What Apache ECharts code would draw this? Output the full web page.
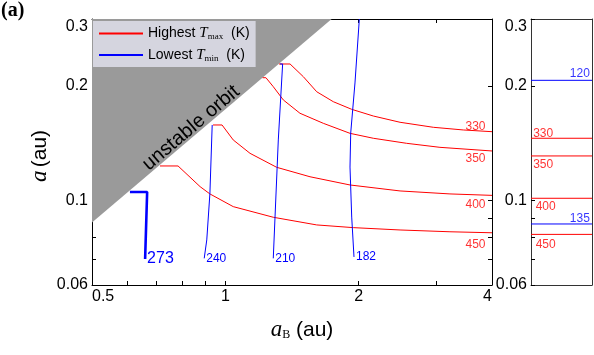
<!DOCTYPE html>
<html>
<head>
<meta charset="utf-8">
<script src="https://cdn.jsdelivr.net/npm/echarts@6/dist/echarts.min.js"></script>
<style>
html,body{margin:0;padding:0;background:#fff}
#chart{width:594px;height:355px}
</style>
</head>
<body>
<div id="chart"></div>
<script>
var chart = echarts.init(document.getElementById('chart'));

//刻度
var xTicks = [0.5, 0.6, 0.7, 0.8, 0.9, 1, 2, 3, 4];
var xTickLabels = [0.5, 1, 2, 4];
var yTicks = [0.06, 0.07, 0.08, 0.09, 0.1, 0.2, 0.3];
var yTickLabels = [0.06, 0.1, 0.2, 0.3];

//不稳定轨道边界 [aB, a]
var unstableEdge = [[0.5, 0.0876], [1.738, 0.3]];

//最高温 Tmax 等值线
var tmaxLevels = ['330', '350', '400', '450'];
var tmax330 = [[1.322, 0.2285], [1.400, 0.2285], [1.500, 0.2116], [1.608, 0.1932], [1.753, 0.1819], [1.929, 0.1737],
    [2.158, 0.1668], [2.480, 0.1606], [2.948, 0.1558], [3.445, 0.1533], [4, 0.1517]];
var tmax350 = [[1.214, 0.2103], [1.235, 0.2103], [1.283, 0.1992], [1.352, 0.1838], [1.474, 0.1696], [1.664, 0.1596],
    [1.912, 0.1502], [2.158, 0.1458], [2.567, 0.1414], [3.052, 0.1380], [4, 0.1350]];
var tmax400 = [[0.938, 0.1580], [0.983, 0.1580], [1.042, 0.1443], [1.137, 0.1331], [1.306, 0.1223], [1.553, 0.1155],
    [1.912, 0.1099], [2.480, 0.1060], [3.215, 0.1041], [4, 0.1032]];
var tmax450 = [[0.712, 0.1233], [0.782, 0.1233], [0.877, 0.1088], [0.923, 0.1041], [1.042, 0.0964], [1.283, 0.0904],
    [1.608, 0.0863], [1.945, 0.0849], [2.480, 0.0837], [3.215, 0.0828], [4, 0.0823]];

//最低温 Tmin 等值线
var tminLevels = ['273', '240', '210', '182'];
var tmin273 = [[0.609, 0.1053], [0.666, 0.1053], [0.659, 0.0702]];
var tmin240 = [[0.934, 0.1580], [0.923, 0.1045], [0.908, 0.0788], [0.896, 0.0705]];
var tmin210 = [[1.329, 0.2285], [1.347, 0.2285], [1.317, 0.1443], [1.283, 0.0705]];
var tmin182 = [[2.007, 0.3], [1.962, 0.2037], [1.919, 0.1505], [1.912, 0.1225], [1.929, 0.0905], [1.952, 0.0711]];

//右侧小图
var panelTmaxLevels = ['330', '350', '400', '450'];
var panelTmaxA = [0.1458, 0.1310, 0.1014, 0.0815];
var panelTminLevels = ['120', '135'];
var panelTminA = [0.2070, 0.0868];

var FONT = 'Liberation Sans, Arial, sans-serif';
var SERIF = 'Liberation Serif, Times New Roman, serif';
var RED = '#ff0000', BLUE = '#0000ff';
var lg = Math.log10;

function fmt(v) { return String(Math.round(v * 100) / 100); }

//坐标轴：type 'log' 用来画线和标签，'value'(对数空间) 只画刻度
function frame(gridIndex, pos, type, min, max, opt) {
    opt = opt || {};
    return {
        gridIndex: gridIndex, type: type, position: pos, min: min, max: max,
        axisLine: { show: opt.line !== false, onZero: false, lineStyle: { color: opt.color || '#000', width: 1 } },
        axisTick: opt.ticks ? { show: true, inside: true, length: 4, customValues: opt.ticks, lineStyle: { color: '#000' } } : { show: false },
        axisLabel: opt.labels ? {
            show: true, customValues: opt.labels, formatter: fmt, color: '#000', fontSize: 16, fontFamily: FONT, margin: 4,
            alignMinLabel: opt.alignEnds ? 'left' : undefined, alignMaxLabel: opt.alignEnds ? 'right' : undefined,
            verticalAlignMaxLabel: opt.alignEnds ? undefined : 'top'
        } : { show: false },
        splitLine: { show: false }
    };
}

var xLogTicks = xTicks.map(lg);
var yLogTicks = yTicks.map(lg);

var series = [];
series.push({
    type: 'line', name: 'unstable', data: unstableEdge, symbol: 'none', silent: true, z: 1,
    lineStyle: { width: 0 }, areaStyle: { color: '#9a9a9a', opacity: 1, origin: 'end' }
});
[tmax330, tmax350, tmax400, tmax450].forEach(function (d) {
    series.push({ type: 'line', name: 'Highest', data: d, symbol: 'none', z: 3,
        lineStyle: { color: RED, width: 1 }, itemStyle: { color: RED } });
});
[tmin273, tmin240, tmin210, tmin182].forEach(function (d, i) {
    series.push({ type: 'line', name: 'Lowest', data: d, symbol: 'none', z: 4,
        lineStyle: { color: BLUE, width: i === 0 ? 2.6 : 1 }, itemStyle: { color: BLUE },
        endLabel: { show: true, formatter: tminLevels[i], color: BLUE, fontFamily: FONT, fontSize: i === 0 ? 16 : 12, distance: 2 } });
});

//等值线标注位置
var mainLabelSpots = [[3.671, 0.1567], [3.671, 0.1292], [3.671, 0.0974], [3.671, 0.0768]];
series.push({
    type: 'scatter', name: 'lab', symbolSize: 1, itemStyle: { color: 'rgba(0,0,0,0)' }, silent: true, z: 5,
    data: mainLabelSpots.map(function (p, i) { return [p[0], p[1], tmaxLevels[i]]; }),
    label: { show: true, position: 'inside', formatter: function (p) { return p.value[2]; }, color: RED, fontSize: 12, fontFamily: FONT }
});

panelTmaxA.forEach(function (a) {
    series.push({ type: 'line', name: 'Highest', xAxisIndex: 3, yAxisIndex: 3, data: [[0, a], [1, a]], symbol: 'none',
        lineStyle: { color: RED, width: 1 }, itemStyle: { color: RED } });
});
panelTminA.forEach(function (a) {
    series.push({ type: 'line', name: 'Lowest', xAxisIndex: 3, yAxisIndex: 3, data: [[0, a], [1, a]], symbol: 'none',
        lineStyle: { color: BLUE, width: 1 }, itemStyle: { color: BLUE } });
});
var panelRedSpots = [[0.20, 0.1502], [0.20, 0.1240], [0.24, 0.0964], [0.24, 0.0764]];
var panelBlueSpots = [[0.80, 0.2160], [0.80, 0.0894]];
series.push({
    type: 'scatter', name: 'lab', xAxisIndex: 3, yAxisIndex: 3, symbolSize: 1, itemStyle: { color: 'rgba(0,0,0,0)' }, silent: true,
    data: panelRedSpots.map(function (p, i) { return [p[0], p[1], panelTmaxLevels[i]]; }),
    label: { show: true, position: 'inside', formatter: function (p) { return p.value[2]; }, color: RED, fontSize: 12, fontFamily: FONT }
});
series.push({
    type: 'scatter', name: 'lab', xAxisIndex: 3, yAxisIndex: 3, symbolSize: 1, itemStyle: { color: 'rgba(0,0,0,0)' }, silent: true,
    data: panelBlueSpots.map(function (p, i) { return [p[0], p[1], panelTminLevels[i]]; }),
    label: { show: true, position: 'inside', formatter: function (p) { return p.value[2]; }, color: BLUE, fontSize: 12, fontFamily: FONT }
});

option = {
    animation: false,
    textStyle: { fontFamily: FONT },
    grid: [
        { left: 92, top: 19, width: 400, height: 266 },
        { left: 531, top: 19, width: 61, height: 266 }
    ],
    xAxis: [
        frame(0, 'bottom', 'log', 0.5, 4, { labels: xTickLabels, alignEnds: true }),
        frame(0, 'top', 'value', lg(0.5), lg(4), { ticks: xLogTicks }),
        frame(0, 'bottom', 'value', lg(0.5), lg(4), { ticks: xLogTicks, line: false }),
        frame(1, 'bottom', 'value', 0, 1, { color: '#333' }),
        frame(1, 'top', 'value', 0, 1, { color: '#333' })
    ],
    yAxis: [
        frame(0, 'left', 'log', 0.06, 0.3, { labels: yTickLabels }),
        frame(0, 'right', 'value', lg(0.06), lg(0.3), { ticks: yLogTicks }),
        frame(0, 'left', 'value', lg(0.06), lg(0.3), { ticks: yLogTicks, line: false }),
        frame(1, 'left', 'log', 0.06, 0.3, { labels: yTickLabels, color: '#333' }),
        frame(1, 'left', 'value', lg(0.06), lg(0.3), { ticks: yLogTicks, line: false }),
        frame(1, 'right', 'value', 0, 1, { color: '#333' })
    ],
    legend: {
        data: ['Highest', 'Lowest'], orient: 'vertical', left: 93, top: 21, selectedMode: false,
        backgroundColor: '#d5d5df', padding: [5, 6, 4, 5], itemWidth: 44, itemHeight: 14, itemGap: 6,
        lineStyle: { width: 2 }, itemStyle: { opacity: 0 },
        formatter: function (name) {
            return name === 'Highest' ? '{t|Highest }{i|T}{s|max}{t|  (K)}' : '{t|Lowest }{i|T}{s|min}{t|  (K)}';
        },
        textStyle: {
            rich: {
                t: { fontSize: 14, fontFamily: FONT, color: '#000' },
                i: { fontSize: 15, fontFamily: SERIF, fontStyle: 'italic', color: '#000' },
                s: { fontSize: 9, fontFamily: SERIF, color: '#000', padding: [7, 0, 0, 0] }
            }
        }
    },
    graphic: [
        { type: 'text', x: 191, y: 128, rotation: 40.2 * Math.PI / 180, z: 10,
          style: { text: 'unstable orbit', font: '20px Liberation Sans', fill: '#000', align: 'center', verticalAlign: 'middle' } },
        { type: 'text', x: 40, y: 156, rotation: Math.PI / 2,
          style: { text: '{i|a} {t|(au)}', fill: '#000', align: 'center', verticalAlign: 'middle',
              rich: { i: { fontFamily: SERIF, fontStyle: 'italic', fontSize: 23 }, t: { fontFamily: FONT, fontSize: 21 } } } },
        { type: 'text', x: 302, y: 330,
          style: { text: '{i|a}{s|B}{t| (au)}', fill: '#000', align: 'center', verticalAlign: 'middle',
              rich: { i: { fontFamily: SERIF, fontStyle: 'italic', fontSize: 23 }, s: { fontFamily: SERIF, fontSize: 12, padding: [9, 0, 0, 0] },
                  t: { fontFamily: FONT, fontSize: 21 } } } },
        { type: 'text', x: 1, y: 11,
          style: { text: '(a)', font: 'bold 20px Liberation Serif', fill: '#000', align: 'left', verticalAlign: 'middle' } }
    ],
    series: series
};
chart.setOption(option);
</script>
</body>
</html>
